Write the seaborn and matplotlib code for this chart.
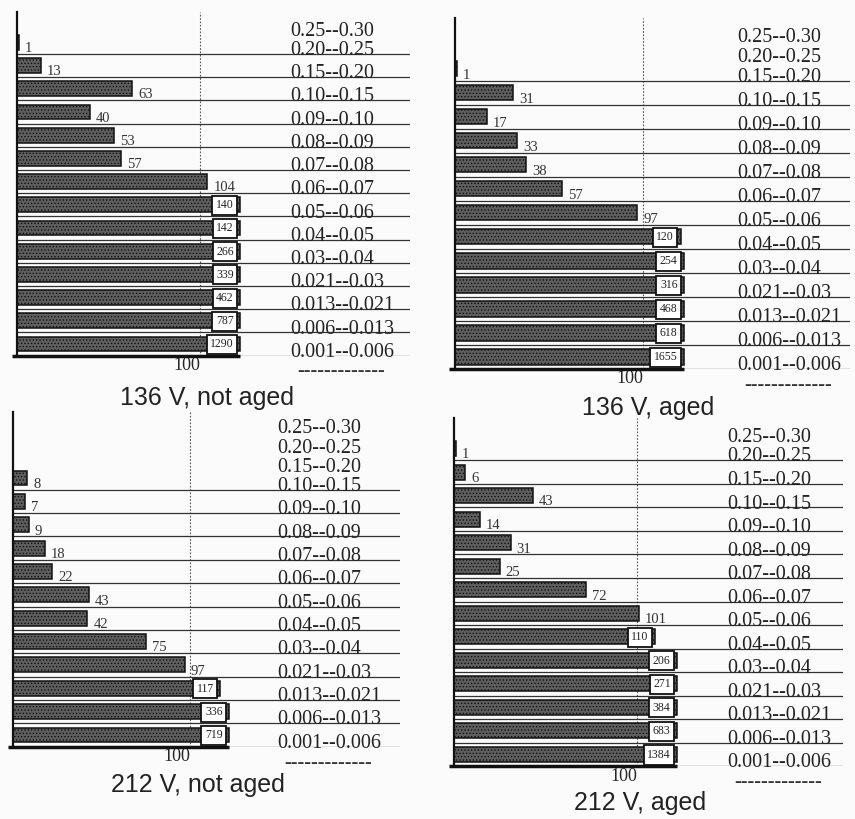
import numpy as np
import pandas as pd
import matplotlib
matplotlib.use("Agg")
import matplotlib.pyplot as plt
import seaborn as sns

# size classes (top to bottom) and counts per panel
bins = ["0.25--0.30", "0.20--0.25", "0.15--0.20", "0.10--0.15", "0.09--0.10",
        "0.08--0.09", "0.07--0.08", "0.06--0.07", "0.05--0.06", "0.04--0.05",
        "0.03--0.04", "0.021--0.03", "0.013--0.021", "0.006--0.013", "0.001--0.006"]

v136_not_aged = [0, 1, 13, 63, 40, 53, 57, 104, 140, 142, 266, 339, 462, 787, 1290]
v136_aged = [0, 0, 1, 31, 17, 33, 38, 57, 97, 120, 254, 316, 468, 618, 1655]
v212_not_aged = [0, 0, 0, 8, 7, 9, 18, 22, 43, 42, 75, 97, 117, 336, 719]
v212_aged = [0, 1, 6, 43, 14, 31, 25, 72, 101, 110, 206, 271, 384, 683, 1384]

titles = ["136 V, not aged", "136 V, aged", "212 V, not aged", "212 V, aged"]

W, H = 855, 819
CLIP = 122      # bars longer than this are cut, value shown in a box
BOX_MIN = 105
serif = "Liberation Serif"
sans = "Liberation Sans"

sns.set_style("white")
plt.rcParams["hatch.linewidth"] = 0.6

fig = plt.figure(figsize=(W / 100, H / 100), dpi=100)
fig.patch.set_facecolor("#fbfbfb")


def panel(values, title, left, x100, right, top, y_first, y_last, lab_x, tx, ty):
    vals = np.array(values)
    n = len(vals)
    idx = np.arange(n)
    f = int(np.argmax(vals > 0))
    # empty classes on top are packed a bit tighter
    pos = np.where(idx < f, (idx - f) * 0.82, idx - f).astype(float)
    last = n - 1 - f
    pxu = (x100 - left) / 100
    row = (y_last - y_first) / last
    y_top = (top - y_first) / row
    y_bot = last + 0.5
    bottom = y_first + y_bot * row

    ax = fig.add_axes([left / W, 1 - bottom / H, (right - left) / W, (bottom - top) / H])
    ax.set_facecolor("none")
    df = pd.DataFrame({"pos": pos, "shown": np.minimum(vals, CLIP)})
    sns.barplot(data=df, x="shown", y="pos", orient="h", native_scale=True,
                width=0.78, color="#5e5e5e", edgecolor="#111111", linewidth=1.1,
                errorbar=None, ax=ax)
    for p in ax.patches:
        p.set_hatch(".....")

    ax.set_xlim(0, (right - left) / pxu)
    ax.set_ylim(y_bot, y_top)
    ax.set_xlabel("")
    ax.set_ylabel("")
    ax.set_yticks([])
    ax.set_xticks([100])
    ax.set_xticklabels(["100"], ha="right", fontfamily=serif, fontsize=13)
    ax.tick_params(axis="x", length=0, pad=1)
    for s in ["top", "right", "bottom"]:
        ax.spines[s].set_visible(False)
    ax.spines["left"].set_linewidth(1.6)
    ax.spines["left"].set_color("#111111")

    for p in range(last + 1):
        ax.axhline(p + 0.5, color="#333333", lw=0.9, zorder=1)
    ax.plot([-3, CLIP], [y_bot, y_bot], color="#111111", lw=2.5,
            clip_on=False, solid_capstyle="butt")
    ax.axvline(100, color="#555555", lw=0.8, ls=(0, (1.5, 1.5)), zorder=0)

    lx = (lab_x - left) / pxu
    for b, p in zip(bins, pos):
        ax.text(lx, p + 0.55, b, fontfamily=serif, fontsize=14.5,
                va="baseline", ha="left", color="#222222")

    for v, p in zip(vals, pos):
        if v == 0:
            continue
        if v > BOX_MIN:
            ax.text(min(v, CLIP) - 3.6, p + 0.02, str(v), ha="right", va="center",
                    fontsize=8.5, fontfamily=serif, color="#222222",
                    bbox=dict(boxstyle="square,pad=0.3", fc="white", ec="#111111", lw=1.3))
        else:
            ax.text(v + 6 / pxu, p + 0.42, str(v), ha="left", va="baseline",
                    fontsize=10.5, fontfamily=serif, color="#333333")

    ax.text(lx + 7 / pxu, y_bot + 0.7, "-" * 13, va="center", ha="left",
            fontfamily=serif, fontsize=14.5, color="#333333")
    fig.text(tx / W, 1 - ty / H, title, ha="center", va="center",
             fontsize=18, fontfamily=sans, color="#222222")


panel(v136_not_aged, titles[0], 17, 200, 410, 12, 42.3, 344, 290, 207, 398)
panel(v136_aged, titles[1], 455, 643, 850, 18, 68.5, 357, 737, 648, 408)
panel(v212_not_aged, titles[2], 13, 190, 400, 412, 478, 735, 277, 198, 785)
panel(v212_aged, titles[3], 454, 637, 843, 418, 448.5, 754.5, 727, 640, 803)

fig.savefig("out.png", dpi=100, facecolor=fig.get_facecolor())
